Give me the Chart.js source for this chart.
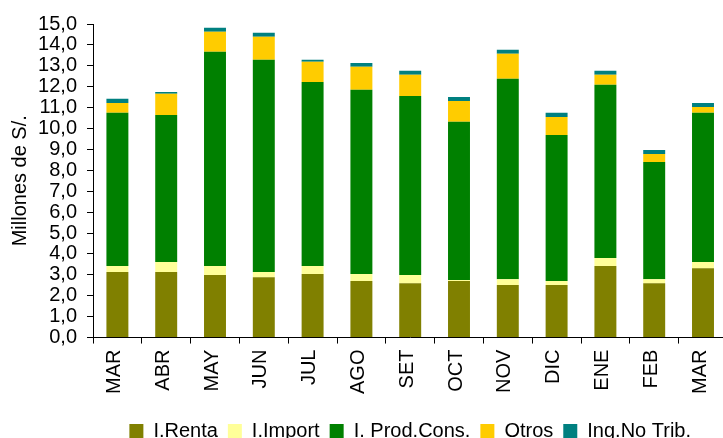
<!DOCTYPE html>
<html>
<head>
<meta charset="utf-8">
<script src="https://cdn.jsdelivr.net/npm/chart.js@4.4.1/dist/chart.umd.min.js"></script>
<style>
  html, body { margin: 0; padding: 0; background: #fff; overflow: hidden; }
  #wrap { position: relative; width: 733px; height: 451px; }
</style>
</head>
<body>
<div id="wrap"><canvas id="c"></canvas></div>
<script>
const categories = ['MAR','ABR','MAY','JUN','JUL','AGO','SET','OCT','NOV','DIC','ENE','FEB','MAR'];
const renta     = [3.13, 3.13, 2.99, 2.89, 3.04, 2.70, 2.60, 2.70, 2.51, 2.51, 3.42, 2.60, 3.32];
const importV   = [0.29, 0.48, 0.43, 0.24, 0.38, 0.34, 0.39, 0.05, 0.28, 0.19, 0.38, 0.19, 0.29];
const prodCons  = [7.33, 7.04, 10.25, 10.16, 8.81, 8.81, 8.57, 7.57, 9.59, 6.99, 8.29, 5.61, 7.14];
const otros     = [0.47, 1.01, 0.96, 1.10, 0.97, 1.10, 1.01, 1.00, 1.20, 0.86, 0.48, 0.38, 0.28];
const ingNoTrib = [0.20, 0.09, 0.19, 0.19, 0.09, 0.19, 0.19, 0.19, 0.19, 0.20, 0.19, 0.19, 0.19];
const seriesNames = ['I.Renta', 'I.Import', 'I. Prod.Cons.', 'Otros', 'Ing.No Trib.'];
const yMin = 0, yMax = 15, yStep = 1;
const yTitle = 'Millones de S/.';

const colors = ['#808000', '#FFFF99', '#008000', '#FFCC00', '#008080'];
const seriesData = [renta, importV, prodCons, otros, ingNoTrib];
const FONT = "'Liberation Sans', Arial, sans-serif";

new Chart(document.getElementById('c'), {
  type: 'bar',
  data: {
    labels: categories,
    datasets: seriesData.map((d, i) => ({
      label: seriesNames[i],
      data: d,
      backgroundColor: colors[i],
      borderWidth: 0,
      categoryPercentage: 1,
      barPercentage: 0.45
    }))
  },
  options: {
    responsive: true,
    maintainAspectRatio: false,
    animation: false,
    layout: { padding: { top: 24, right: 0, left: 0, bottom: 0 } },
    plugins: {
      tooltip: { enabled: false },
      legend: {
        position: 'bottom',
        fullSize: false,
        labels: {
          boxWidth: 14,
          boxHeight: 14,
          padding: 10,
          color: '#000',
          font: { family: FONT, size: 20 }
        }
      }
    },
    scales: {
      x: {
        stacked: true,
        grid: { drawOnChartArea: false, tickLength: 6, color: '#000' },
        border: { color: '#000' },
        ticks: {
          color: '#000',
          font: { family: FONT, size: 20 },
          minRotation: 90,
          maxRotation: 90,
          autoSkip: false,
          padding: 6,
          labelOffset: -3
        },
        afterFit: s => { s.height += 11; }
      },
      y: {
        stacked: true,
        min: yMin,
        max: yMax,
        grid: { drawOnChartArea: false, tickLength: 6, color: '#000' },
        border: { color: '#000' },
        ticks: {
          stepSize: yStep,
          autoSkip: false,
          color: '#000',
          padding: 10,
          font: { family: FONT, size: 20 },
          callback: v => v.toFixed(1).replace('.', ',')
        },
        title: {
          display: true,
          text: yTitle,
          color: '#000',
          padding: { top: 8, bottom: 0 },
          font: { family: FONT, size: 20 }
        },
        afterFit: s => { s.width = 93; }
      }
    }
  }
});
</script>
</body>
</html>
